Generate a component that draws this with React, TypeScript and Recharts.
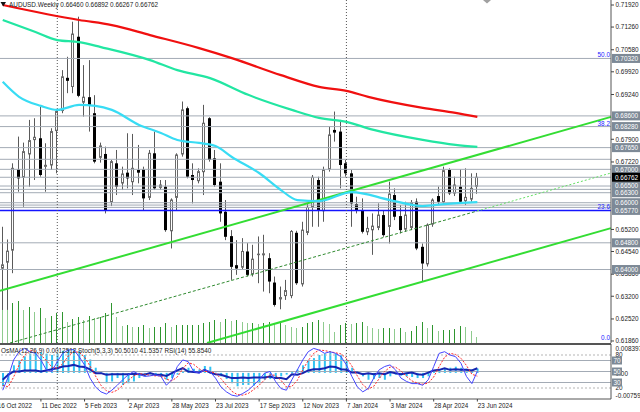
import React from 'react';
import { ComposedChart, Bar, Line, XAxis, YAxis, ReferenceLine } from 'recharts';

// AUDUSD weekly, 23 Oct 2022 .. 23 Jun 2024, plus empty slots to the right
const symbol = 'AUDUSD.Weekly';
const slotCount = 112;

const opens = [
  0.6401, 0.6419, 0.6455, 0.6700, 0.6673, 0.6743, 0.6786, 0.6793, 0.6706, 0.6710,
  0.6813, 0.6873, 0.6974, 0.6945, 0.7097, 0.6898, 0.6916, 0.6868, 0.6733, 0.6746,
  0.6600, 0.6718, 0.6656, 0.6690, 0.6660, 0.6698, 0.6700, 0.6613, 0.6748, 0.6643,
  0.6648, 0.6513, 0.6613, 0.6743, 0.6883, 0.6683, 0.6663, 0.6690, 0.6853, 0.6733,
  0.6663, 0.6573, 0.6500, 0.6413, 0.6404, 0.6454, 0.6384, 0.6443, 0.6441, 0.6434,
  0.6361, 0.6309, 0.6319, 0.6319, 0.6510, 0.6354, 0.6508, 0.6583, 0.6668, 0.6573,
  0.6698, 0.6818, 0.6813, 0.6718, 0.6688, 0.6596, 0.6576, 0.6510, 0.6516, 0.6523,
  0.6563, 0.6526, 0.6623, 0.6560, 0.6518, 0.6523, 0.6603, 0.6468, 0.6414, 0.6533,
  0.6620, 0.6600, 0.6698, 0.6626, 0.6648, 0.6603, 0.6608, 0.6646,
];
const highs = [
  0.6528, 0.6490, 0.6718, 0.6798, 0.6780, 0.6848, 0.6853, 0.6888, 0.6778, 0.6823,
  0.6878, 0.6997, 0.7037, 0.7142, 0.7157, 0.7012, 0.7027, 0.6922, 0.6780, 0.6768,
  0.6728, 0.6758, 0.6708, 0.6808, 0.6806, 0.6773, 0.6708, 0.6758, 0.6813, 0.6668,
  0.6668, 0.6613, 0.6748, 0.6903, 0.6888, 0.6718, 0.6703, 0.6893, 0.6856, 0.6758,
  0.6718, 0.6608, 0.6518, 0.6488, 0.6494, 0.6479, 0.6474, 0.6499, 0.6504, 0.6449,
  0.6379, 0.6349, 0.6369, 0.6518, 0.6516, 0.6543, 0.6598, 0.6683, 0.6678, 0.6708,
  0.6828, 0.6873, 0.6848, 0.6728, 0.6698, 0.6618, 0.6613, 0.6558, 0.6568, 0.6598,
  0.6578, 0.6663, 0.6643, 0.6593, 0.6603, 0.6608, 0.6613, 0.6478, 0.6538, 0.6613,
  0.6648, 0.6708, 0.6703, 0.6678, 0.6700, 0.6703, 0.6688, 0.66892,
];
const lows = [
  0.6279, 0.6279, 0.6389, 0.6633, 0.6588, 0.6648, 0.6668, 0.6678, 0.6633, 0.6698,
  0.6688, 0.6868, 0.6928, 0.6928, 0.6916, 0.6858, 0.6813, 0.6718, 0.6720, 0.6568,
  0.6590, 0.6623, 0.6638, 0.6643, 0.6623, 0.6658, 0.6578, 0.6608, 0.6638, 0.6638,
  0.6513, 0.6463, 0.6578, 0.6738, 0.6673, 0.6598, 0.6658, 0.6623, 0.6723, 0.6648,
  0.6543, 0.6488, 0.6369, 0.6384, 0.6399, 0.6379, 0.6379, 0.6359, 0.6334, 0.6329,
  0.6289, 0.6281, 0.6309, 0.6314, 0.6354, 0.6349, 0.6503, 0.6528, 0.6528, 0.6543,
  0.6693, 0.6783, 0.6643, 0.6678, 0.6528, 0.6568, 0.6508, 0.6503, 0.6444, 0.6518,
  0.6498, 0.6478, 0.6548, 0.6508, 0.6513, 0.6518, 0.6458, 0.6363, 0.6409, 0.6528,
  0.6593, 0.6596, 0.6623, 0.6620, 0.6598, 0.6593, 0.6603, 0.66267,
];
const closes = [
  0.6414, 0.6455, 0.6703, 0.6673, 0.6753, 0.6786, 0.6796, 0.6683, 0.6712, 0.6813,
  0.6873, 0.6977, 0.6965, 0.7105, 0.6920, 0.6916, 0.6893, 0.6723, 0.6770, 0.6578,
  0.6723, 0.6648, 0.6686, 0.6673, 0.6703, 0.6690, 0.6613, 0.6748, 0.6643, 0.6653,
  0.6518, 0.6608, 0.6743, 0.6878, 0.6678, 0.6668, 0.6693, 0.6838, 0.6728, 0.6653,
  0.6568, 0.6498, 0.6408, 0.6403, 0.6454, 0.6384, 0.6431, 0.6446, 0.6447, 0.6364,
  0.6294, 0.6316, 0.6337, 0.6514, 0.6359, 0.6518, 0.6586, 0.6676, 0.6578, 0.6698,
  0.6803, 0.6810, 0.6713, 0.6688, 0.6598, 0.6578, 0.6513, 0.6523, 0.6530, 0.6563,
  0.6503, 0.6626, 0.6558, 0.6518, 0.6563, 0.6600, 0.6463, 0.6418, 0.6533, 0.6608,
  0.6603, 0.6696, 0.6628, 0.6653, 0.6603, 0.6616, 0.6643, 0.66762,
];
const tickVolumes = [
  40, 33, 40, 42, 33, 36, 31, 35, 25, 27, 30, 31, 21, 24, 26, 23, 27, 25, 26, 30,
  40, 26, 17, 18, 16, 16, 18, 15, 16, 16, 20, 16, 18, 18, 18, 18, 18, 20, 21, 23,
  21, 24, 22, 23, 21, 20, 20, 19, 20, 21, 20, 20, 18, 16, 15, 16, 20, 21, 23, 21,
  19, 11, 18, 20, 19, 20, 21, 17, 15, 14, 15, 15, 14, 15, 11, 12, 17, 21, 15, 18,
  12, 13, 13, 14, 17, 16, 12, 6,
];

// moving averages, read at a few bars and joined by the line
const maRed: [number, number][] = [
  [0, 0.7192], [14, 0.7147], [20, 0.7132], [27, 0.7102], [36, 0.7063], [42, 0.7033], [51, 0.6982],
  [58, 0.6947], [63, 0.6935], [67, 0.6917], [77, 0.6884], [83, 0.6869], [87, 0.6857],
];
const maGreen: [number, number][] = [
  [0, 0.7147], [6, 0.7111], [10, 0.7087], [14, 0.7081], [18, 0.7066], [27, 0.7027], [32, 0.6997],
  [38, 0.6973], [45, 0.6923], [53, 0.6878], [58, 0.6854], [63, 0.6842], [68, 0.6818], [77, 0.6788],
  [83, 0.6773], [87, 0.6767],
];
const maCyan: [number, number][] = [
  [0, 0.6962], [3, 0.6917], [7, 0.689], [10, 0.6878], [14, 0.6893], [17, 0.689], [20, 0.6878],
  [25, 0.6833], [29, 0.6809], [32, 0.6788], [36, 0.6779], [39, 0.677], [42, 0.6737], [47, 0.6689],
  [51, 0.6638], [54, 0.6608], [58, 0.6605], [64, 0.6632], [71, 0.6608], [77, 0.659], [81, 0.6596],
  [87, 0.6602],
];

// channel lines: [bar index, price] end points
const channelUpper = [[-0.5, 0.6336], [111.5, 0.6857]];
const channelLower = [[37.45, 0.618], [111.5, 0.6524]];
const channelMidPast = [[1.33, 0.618], [86.94, 0.6575]];
const channelMidFuture = [[86.94, 0.6575], [111.5, 0.6689]];

const levelLines = [0.7032, 0.686, 0.6828, 0.6765, 0.673, 0.67, 0.66762, 0.665, 0.664, 0.663, 0.66, 0.6593, 0.6586, 0.648, 0.64];
const fibBlueLevel = 0.6577;
const fibLabels = [
  { y: 0.7032, text: '50.0' },
  { y: 0.6828, text: '38.2' },
  { y: 0.6577, text: '23.6' },
  { y: 0.6186, text: '0.0' },
];
const separatorBars = [10, 63];

const priceTicks = [0.7192, 0.7126, 0.7058, 0.6992, 0.6924, 0.679, 0.6722, 0.652, 0.6454, 0.6386, 0.632, 0.6252, 0.6186];
const boxedPrices = [0.7032, 0.686, 0.6828, 0.6765, 0.67, 0.665, 0.663, 0.66, 0.6577, 0.648, 0.64];

const dateTickIndex = [-1, 7, 15, 23, 31, 39, 47, 55, 63, 71, 79, 87];
const dateTickLabels = [
  '16 Oct 2022', '11 Dec 2022', '5 Feb 2023', '2 Apr 2023', '28 May 2023', '23 Jul 2023',
  '17 Sep 2023', '12 Nov 2023', '7 Jan 2024', '3 Mar 2024', '28 Apr 2024', '23 Jun 2024',
];

// indicators
const osma = [
  -0.0039, -0.003, 0.0022, 0.0035, 0.0048, 0.0056, 0.006, 0.006, 0.0056, 0.0052,
  0.0056, 0.0064, 0.0068, 0.0068, 0.0064, 0.0052, 0.0039, 0.0015, 0.0002, -0.003,
  -0.0025, -0.0015, -0.0035, -0.003, -0.0025, -0.0015, -0.001, -0.0005, -0.0008, -0.0012,
  -0.002, -0.0015, -0.0005, 0.0005, 0.0015, 0.0012, 0.001, 0.002, 0.0018, 0.0001,
  -0.001, -0.0018, -0.003, -0.0039, -0.0035, -0.0035, -0.0037, -0.003, -0.002, -0.0018,
  -0.0015, -0.001, -0.0005, 0.0005, 0.001, 0.0022, 0.0035, 0.0043, 0.0052, 0.0056,
  0.006, 0.0056, 0.0052, 0.0035, 0.0015, 0.0005, -0.001, -0.002, -0.0018, -0.0015,
  -0.002, -0.001, -0.0005, -0.0008, -0.001, -0.0012, -0.0015, -0.0015, -0.001, 0.0005,
  0.001, 0.0012, 0.0015, 0.0018, 0.0015, 0.0012, 0.001, 0.0012512,
];
const stochMain = [
  16, 40, 71, 86, 92, 86, 83, 71, 53, 50, 68, 83, 89, 90, 77, 62, 38, 22, 13, 9,
  16, 25, 35, 44, 50, 45, 41, 42, 44, 41, 25, 35, 59, 71, 68, 50, 47, 53, 50, 38,
  22, 13, 7, 5, 10, 16, 25, 35, 47, 50, 32, 19, 16, 35, 53, 71, 86, 92, 89, 83,
  86, 83, 77, 62, 41, 22, 13, 19, 38, 53, 59, 62, 53, 38, 32, 28, 28, 25, 35, 59,
  83, 86, 80, 77, 65, 41, 28, 50.501,
];
const stochSignal = [
  25, 22, 40, 62, 80, 88, 87, 80, 70, 58, 56, 64, 78, 86, 85, 76, 60, 42, 25, 15,
  12, 16, 25, 34, 42, 46, 45, 43, 42, 42, 36, 33, 40, 55, 66, 63, 55, 50, 50, 47,
  37, 25, 14, 8, 7, 10, 17, 25, 35, 44, 43, 34, 22, 23, 34, 53, 70, 83, 89, 88,
  86, 84, 82, 74, 60, 42, 26, 18, 23, 37, 50, 58, 58, 51, 41, 33, 29, 27, 29, 40,
  59, 76, 83, 81, 74, 61, 45, 41.5357,
];
const rsi = [
  35, 44, 50, 50, 52, 52, 52, 50, 52, 54, 56, 59, 60, 62, 59, 58, 54, 47, 47, 44,
  45, 45, 45, 45, 46, 45, 44, 47, 44, 44, 42, 47, 52, 56, 50, 49, 48, 53, 48, 45,
  44, 41, 38, 38, 39, 38, 39, 39, 39, 41, 38, 38, 36, 45, 44, 47, 52, 54, 54, 56,
  59, 58, 54, 53, 48, 48, 45, 47, 45, 47, 45, 49, 47, 45, 47, 48, 45, 44, 48, 52,
  53, 56, 53, 54, 53, 53, 52, 55.854,
];
const osmaTop = 0.008397;
const osmaBottom = -0.00759;

const FONT = '"Liberation Sans", Arial, sans-serif';
const FS = 6.4;
const PLOT_W = 611;
const band = PLOT_W / slotCount;
const lastIdx = closes.length - 1;
const lastClose = closes[lastIdx];

const rows = Array.from({ length: slotCount }, (_, i) => {
  const has = i < closes.length;
  return {
    i,
    range: has ? [lows[i], highs[i]] : undefined,
    open: has ? opens[i] : undefined,
    high: has ? highs[i] : undefined,
    low: has ? lows[i] : undefined,
    close: has ? closes[i] : undefined,
    vol: has ? tickVolumes[i] : undefined,
    osma: has ? osma[i] : undefined,
    stoch: has ? stochMain[i] : undefined,
    signal: has ? stochSignal[i] : undefined,
    rsi: has ? rsi[i] : undefined,
  };
});

const maRows = (pts: [number, number][]) => pts.map(([i, v]) => ({ i, v }));

const crispX = (x: number, width: number) => Math.round(x + width / 2) - 0.5;

const Candle = (p: any) => {
  const { x, y, width, height, payload } = p;
  if (!payload || payload.open == null) return null;
  const top = Math.min(y, y + height);
  const h = Math.abs(height);
  const k = h / (payload.high - payload.low || 1e-9);
  const cx = crispX(x, width);
  const yO = top + (payload.high - payload.open) * k;
  const yC = top + (payload.high - payload.close) * k;
  const bTop = Math.min(yO, yC);
  const bH = Math.max(Math.abs(yO - yC), 1);
  const up = payload.close >= payload.open;
  return (
    <g>
      <line x1={cx} x2={cx} y1={top} y2={top + h} stroke="#5a5a5a" strokeWidth={1} />
      {up ? (
        <rect x={cx - 1} y={bTop} width={2} height={Math.max(bH - 1, 0.5)} fill="#fff" stroke="#6a6a6a" strokeWidth={1} />
      ) : (
        <rect x={cx - 1.5} y={bTop} width={3} height={bH} fill="#000" />
      )}
    </g>
  );
};

const VolumeBar = (p: any) => {
  const { x, y, width, height, index } = p;
  if (height == null || !isFinite(height)) return null;
  const cx = crispX(x, width);
  const rising = index > 0 && tickVolumes[index] >= tickVolumes[index - 1];
  return <line x1={cx} x2={cx} y1={y} y2={y + height} stroke={rising ? '#2f962f' : '#8fcb8f'} strokeWidth={1} />;
};

const PriceTick = (p: any) => {
  const { x, y, payload } = p;
  const v = payload.value as number;
  const label = v.toFixed(5);
  const isLast = v === lastClose;
  if (isLast || boxedPrices.includes(v)) {
    return (
      <g>
        <rect x={x + 1} y={y - 4.5} width={28} height={9} fill={isLast ? '#000' : '#7d8996'} />
        <text x={x + 4} y={y + 2.3} fill="#fff" fontSize={FS} fontFamily={FONT}>{label}</text>
      </g>
    );
  }
  return (
    <g>
      <line x1={x} x2={x + 3} y1={y} y2={y} stroke="#444" />
      <text x={x + 4.5} y={y + 2.3} fill="#222" fontSize={FS} fontFamily={FONT}>{label}</text>
    </g>
  );
};

const IndTick = (p: any) => {
  const { x, y, payload } = p;
  const v = payload.value as number;
  const txt = (s: string, ty: number) => (
    <text x={x + 4.5} y={ty} fill="#222" fontSize={FS} fontFamily={FONT}>{s}</text>
  );
  const box = (s: string) => (
    <g>
      <rect x={x + 1} y={y - 4} width={10} height={8} fill="#7d8996" />
      <text x={x + 2.5} y={y + 2.3} fill="#fff" fontSize={FS} fontFamily={FONT}>{s}</text>
    </g>
  );
  if (v === 100) return txt(osmaTop.toFixed(6), y + 7);
  if (v === 0) return txt(osmaBottom.toFixed(6), y - 1.5);
  if (v === 50) return <g>{txt('0.00', y + 4.5)}{box('50')}</g>;
  if (v === 70 || v === 30) return box(String(v));
  return txt(String(v), y + 2.3);
};

const DateTick = (p: any) => {
  const { x, y, payload, index } = p;
  const want = dateTickIndex[index];
  const dx = (want - payload.value) * band;
  return (
    <g>
      {dx === 0 && <line x1={x} x2={x} y1={y} y2={y + 2.5} stroke="#444" />}
      <text x={x + dx + 0.5} y={y + 9.3} fill="#222" fontSize={6.3} fontFamily={FONT}>
        {dateTickLabels[index]}
      </text>
    </g>
  );
};

const seg = (pts: number[][]) => pts.map(([x, y]) => ({ x, y }));

export default function App() {
  const header = `${symbol} ${opens[lastIdx].toFixed(5)} ${highs[lastIdx].toFixed(5)} ${lows[lastIdx].toFixed(5)} ${closes[lastIdx].toFixed(5)}`;
  const indHeader = `OsMA(12,26,9) ${osma[lastIdx].toFixed(7)} Stoch(5,3,3) ${stochMain[lastIdx].toFixed(4)} ${stochSignal[lastIdx].toFixed(4)} RSI(14) ${rsi[lastIdx].toFixed(4)}`;

  return (
    <div style={{ position: 'absolute', left: 0, top: 0, width: 640, height: 412, background: '#fff', overflow: 'hidden' }}>
      <div style={{ position: 'absolute', left: 0, top: 0 }}>
        <ComposedChart width={640} height={343} data={rows} margin={{ top: 0, right: 0, bottom: 0, left: 0 }}>
          <XAxis xAxisId="c" dataKey="i" type="category" hide />
          <XAxis xAxisId="v" dataKey="i" type="category" hide />
          <XAxis xAxisId="n" dataKey="i" type="number" domain={[-0.5, slotCount - 0.5]} allowDataOverflow hide />
          <YAxis
            yAxisId="p"
            orientation="right"
            width={29}
            domain={[0.618, 0.7207]}
            allowDataOverflow
            ticks={[...priceTicks, ...boxedPrices, lastClose]}
            interval={0}
            tick={<PriceTick />}
            tickSize={0}
            tickMargin={0}
            tickLine={false}
            axisLine={{ stroke: '#555' }}
          />
          <YAxis yAxisId="vol" hide domain={[0, 343]} />

          {levelLines.map((v) => (
            <ReferenceLine key={v} xAxisId="c" yAxisId="p" y={v} stroke="#a3abb5" strokeWidth={1} />
          ))}
          <ReferenceLine xAxisId="c" yAxisId="p" y={fibBlueLevel} stroke="#1414ff" strokeWidth={1.5} />
          {fibLabels.map((f) => (
            <ReferenceLine
              key={f.text}
              xAxisId="c"
              yAxisId="p"
              y={f.y}
              stroke="none"
              label={{ value: f.text, position: 'insideBottomRight', offset: 1, fill: '#2222ff', fontSize: FS, fontFamily: FONT }}
            />
          ))}
          {separatorBars.map((b) => (
            <ReferenceLine key={b} xAxisId="c" yAxisId="p" x={b} stroke="#555" strokeDasharray="1 2" />
          ))}

          <Bar xAxisId="v" yAxisId="vol" dataKey="vol" barSize={1} shape={VolumeBar} isAnimationActive={false} />

          <ReferenceLine xAxisId="n" yAxisId="p" segment={seg(channelUpper)} stroke="#33dd33" strokeWidth={2} />
          <ReferenceLine xAxisId="n" yAxisId="p" segment={seg(channelLower)} stroke="#33dd33" strokeWidth={2} />
          <ReferenceLine xAxisId="n" yAxisId="p" segment={seg(channelMidPast)} stroke="#2f8a2f" strokeWidth={1} strokeDasharray="3 2" />
          <ReferenceLine xAxisId="n" yAxisId="p" segment={seg(channelMidFuture)} stroke="#66e066" strokeWidth={1} strokeDasharray="2 2" />

          <Line xAxisId="n" yAxisId="p" data={maRows(maRed)} dataKey="v" type="monotone" stroke="#f01010" strokeWidth={2.2} dot={false} activeDot={false} isAnimationActive={false} />
          <Line xAxisId="n" yAxisId="p" data={maRows(maGreen)} dataKey="v" type="monotone" stroke="#22e6a2" strokeWidth={2.2} dot={false} activeDot={false} isAnimationActive={false} />
          <Line xAxisId="n" yAxisId="p" data={maRows(maCyan)} dataKey="v" type="monotone" stroke="#38dcf4" strokeWidth={2.2} dot={false} activeDot={false} isAnimationActive={false} />

          <Bar xAxisId="c" yAxisId="p" dataKey="range" barSize={3} shape={Candle} isAnimationActive={false} />
        </ComposedChart>
      </div>

      <div style={{ position: 'absolute', left: 0, top: 343 }}>
        <ComposedChart width={640} height={69} data={rows} margin={{ top: 1, right: 0, bottom: 0, left: 0 }}>
          <XAxis
            xAxisId="c"
            dataKey="i"
            type="category"
            height={13}
            ticks={dateTickIndex.map((i) => Math.max(i, 0))}
            interval={0}
            tick={<DateTick />}
            tickSize={0}
            tickMargin={0}
            tickLine={false}
            axisLine={{ stroke: '#555' }}
          />
          <YAxis
            yAxisId="pct"
            orientation="right"
            width={29}
            domain={[0, 100]}
            ticks={[100, 80, 20, 0, 70, 30, 50]}
            interval={0}
            tick={<IndTick />}
            tickSize={0}
            tickMargin={0}
            tickLine={false}
            axisLine={{ stroke: '#555' }}
          />
          <YAxis yAxisId="osma" hide domain={[osmaBottom, osmaTop]} />

          <ReferenceLine xAxisId="c" yAxisId="pct" y={80} stroke="#b5b5b5" strokeDasharray="2 2" />
          <ReferenceLine xAxisId="c" yAxisId="pct" y={20} stroke="#b5b5b5" strokeDasharray="2 2" />
          <ReferenceLine xAxisId="c" yAxisId="pct" y={70} stroke="#a3abb5" />
          <ReferenceLine xAxisId="c" yAxisId="pct" y={50} stroke="#a3abb5" />
          <ReferenceLine xAxisId="c" yAxisId="pct" y={30} stroke="#a3abb5" />
          {separatorBars.map((b) => (
            <ReferenceLine key={b} xAxisId="c" yAxisId="pct" x={b} stroke="#555" strokeDasharray="1 2" />
          ))}

          <Bar xAxisId="c" yAxisId="osma" dataKey="osma" fill="#2fc3f3" barSize={2} isAnimationActive={false} />
          <Line xAxisId="c" yAxisId="pct" dataKey="rsi" type="linear" stroke="#1626b0" strokeWidth={2} dot={false} isAnimationActive={false} />
          <Line xAxisId="c" yAxisId="pct" dataKey="signal" type="linear" stroke="#ff2a2a" strokeWidth={1} strokeDasharray="2 1.5" dot={false} isAnimationActive={false} />
          <Line xAxisId="c" yAxisId="pct" dataKey="stoch" type="linear" stroke="#4646ff" strokeWidth={1} dot={false} isAnimationActive={false} />

          <ReferenceLine xAxisId="c" yAxisId="pct" y={100} stroke="#555" strokeWidth={2} ifOverflow="visible" />
        </ComposedChart>
      </div>

      <svg width={640} height={412} style={{ position: 'absolute', left: 0, top: 0, pointerEvents: 'none' }}>
        <polygon points="0.5,2 6,2 3.25,6.5" fill="#111" />
        <text x={9} y={7.4} fontSize={FS} fontFamily={FONT} fill="#222">{header}</text>
        <polygon points="483,0 491,0 487,3.5" fill="#a0a0a0" />
        <text x={1} y={352.6} fontSize={FS} fontFamily={FONT} fill="#222">{indHeader}</text>
      </svg>
    </div>
  );
}
